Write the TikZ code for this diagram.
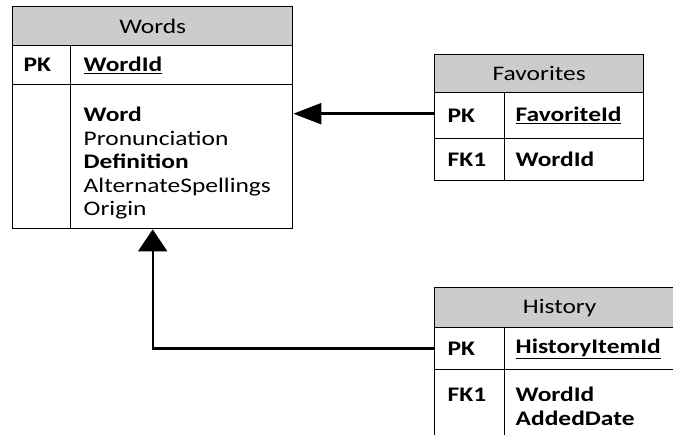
\documentclass[tikz,border=0pt]{standalone}
\usepackage{fontspec}
\setmainfont{Carlito}[FakeStretch=1.23]
\usetikzlibrary{arrows.meta}

\tikzset{
	cell/.style={draw, line width=1.4pt, anchor=north west, inner ysep=0pt, align=left},
	title/.style={cell, fill=black!20, align=center},
	fk/.style={line width=2.4pt, -{Triangle[#1]}},
}

\begin{document}
\begin{tikzpicture}[x=1pt, y=-1pt, font=\fontsize{20.7}{23.5}\selectfont]
	\useasboundingbox (0,0) rectangle (673,435);
	\clip (0,0) rectangle (673,435);

	% Words
	\node[title, minimum width=280pt, minimum height=39pt] (wtitle) at (12,6) {Words};
	\node[cell, text width=36pt, inner xsep=11pt, minimum height=39pt] (wpk) at (12,45) {\textbf{PK}};
	\node[cell, text width=196pt, inner xsep=13pt, minimum height=39pt] (wid) at (70,45) {\textbf{\underline{WordId}}};
	\node[cell, text width=36pt, inner xsep=11pt, minimum height=144pt] (wkey) at (12,84) {};
	\node[cell, text width=196pt, inner xsep=13pt, minimum height=144pt] (wfld) at (70,84)
		{\strut\\[-12pt]\textbf{Word}\\Pronunciation\\\textbf{Definition}\\AlternateSpellings\\Origin};

	% Favorites
	\node[title, minimum width=209pt, minimum height=38pt] (ftitle) at (434,54) {Favorites};
	\node[cell, text width=44pt, inner xsep=13pt, minimum height=46pt] (fpk) at (434,92) {\textbf{PK}};
	\node[cell, text width=117pt, inner xsep=11pt, minimum height=46pt] (fid) at (504,92) {\textbf{\underline{FavoriteId}}};
	\node[cell, text width=44pt, inner xsep=13pt, minimum height=42pt] (ffk) at (434,138) {\textbf{FK1}};
	\node[cell, text width=117pt, inner xsep=11pt, minimum height=42pt] (fwid) at (504,138) {\textbf{WordId}};

	% History
	\node[title, minimum width=250pt, minimum height=40pt] (htitle) at (434,287) {History};
	\node[cell, text width=44pt, inner xsep=13pt, minimum height=42pt] (hpk) at (434,327) {\textbf{PK}};
	\node[cell, text width=158pt, inner xsep=11pt, minimum height=42pt] (hid) at (504,327) {\textbf{\underline{HistoryItemId}}};
	\node[cell, text width=44pt, inner xsep=13pt, minimum height=73pt] (hfk) at (434,369) {\textbf{FK1}\\\mbox{}};
	\node[cell, text width=158pt, inner xsep=11pt, minimum height=73pt] (hfld) at (504,369) {\textbf{WordId}\\\textbf{AddedDate}};

	% relations
	\draw[fk={length=28pt,width=21pt}] ([yshift=2pt]fpk.west) -- ([yshift=2pt]fpk.west -| wfld.east);
	\draw[fk={length=22pt,width=29pt}] (hpk.west) -| (wtitle.center |- wfld.south);
\end{tikzpicture}
\end{document}
